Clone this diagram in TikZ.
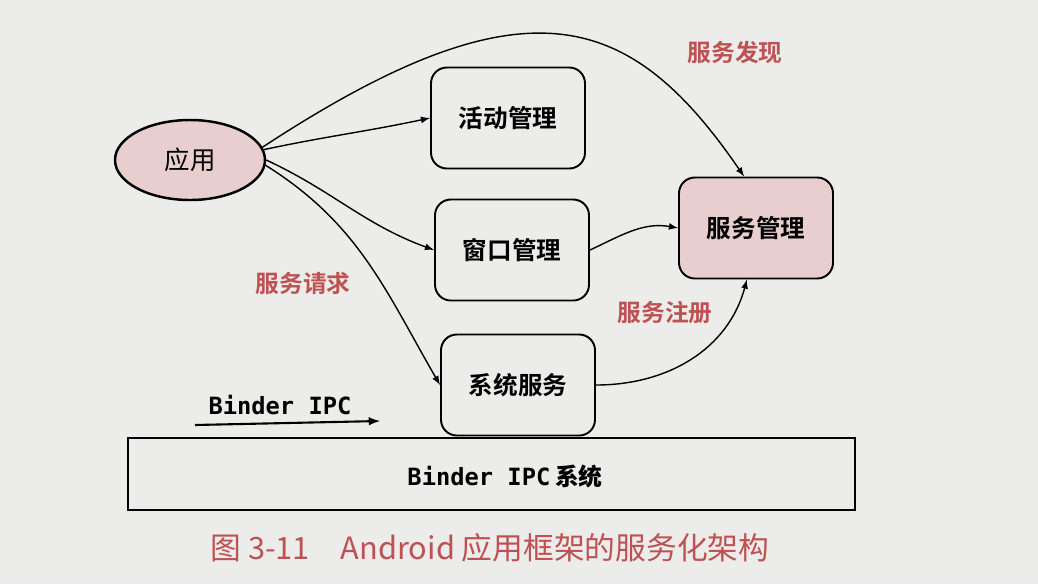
\documentclass[tikz,border=0pt]{standalone}
\usepackage{fontspec}
\setmonofont{DejaVu Sans Mono}
\newfontfamily\cjk{Noto Sans CJK SC}
\newfontfamily\cjkbold{Noto Sans CJK SC Bold}
\usetikzlibrary{shapes.geometric}
\definecolor{paper}{RGB}{236,236,234}
\definecolor{rosa}{RGB}{232,206,206}
\definecolor{redlbl}{RGB}{190,82,82}
\tikzset{
	box/.style={draw, line width=1.1pt, rounded corners=9pt, minimum width=3.08cm, minimum height=2.02cm, font=\cjkbold\fontsize{14}{16}\selectfont},
	appnode/.style={draw, ellipse, line width=1.4pt, fill=rosa, minimum width=3cm, minimum height=1.6cm, font=\cjk\fontsize{14.5}{16}\selectfont},
	lbl/.style={text=redlbl, font=\cjkbold\fontsize{13.5}{15}\selectfont},
	link/.style={-latex, line width=0.8pt}
}

\begin{document}
\begin{tikzpicture}
		%%%%% START %%%%%
		
		\fill[paper] (0, 0) rectangle (20.76, -11.68);
		\useasboundingbox (0, 0) rectangle (20.76, -11.68);
		
		\node[appnode] (app) at (3.8, -3.2) {应用};
		
		\node[box] (act) at (10.16, -2.36) {活动管理};
		\node[box] (win) at (10.24, -5.0) {窗口管理};
		\node[box] (sys) at (10.36, -7.7) {系统服务};
		\node[box, fill=rosa] (svc) at (15.12, -4.56) {服务管理};
		
		\node[draw, line width=1.2pt, minimum width=14.54cm, minimum height=1.44cm, font=\ttfamily\bfseries\fontsize{13.5}{15}\selectfont] (bus) at (9.83, -9.48) {};
		\node[font=\ttfamily\bfseries\fontsize{13.5}{15}\selectfont] (busname) at (10.1, -9.52) {Binder IPC\hspace{0.2em}\cjkbold 系统};
		
		\node[font=\ttfamily\bfseries\fontsize{13.5}{15}\selectfont] (ipc) at (5.6, -8.1) {Binder IPC};
		\coordinate (ipcA) at (3.9, -8.5);
		\coordinate (ipcB) at (7.6, -8.42);
		\draw[link, line width=1.2pt] (ipcA) -- (ipcB);
		
		\node[lbl] (find) at (14.7, -1.04) {服务发现};
		\node[lbl] (ask) at (6.06, -5.66) {服务请求};
		\node[lbl] (reg) at (13.3, -6.26) {服务注册};
		
		\draw[link] (app.8) to[out=12, in=192] (act.west);
		\draw[link] (app.10) .. controls (10.5, 0.5) and (12.6, -0.2) .. (svc.103);
		\draw[link] (app.east) to[out=-25, in=160] (win.west);
		\draw[link] (app.-4) to[out=-32, in=120] (sys.west);
		\draw[link] (win.east) to[out=25, in=170] (svc.west);
		\draw[link] (sys.east) to[out=0, in=-105] (svc.-100);
		
		\node[text=redlbl, font=\cjk\fontsize{17.5}{20}\selectfont] (cap) at (9.8, -10.96) {图 3-11\quad Android 应用框架的服务化架构};
		
		%%%%% END %%%%%
	\end{tikzpicture}
\end{document}
